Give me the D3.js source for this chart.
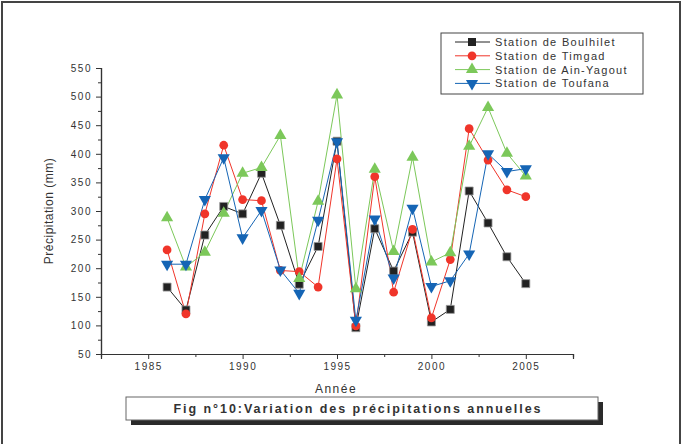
<!DOCTYPE html>
<html>
<head>
<meta charset="utf-8">
<script src="https://cdn.jsdelivr.net/npm/d3@7"></script>
<style>
  body { margin: 0; background: #fff; }
  svg text { font-family: "Liberation Sans", Arial, sans-serif; fill: #333; }
</style>
</head>
<body>
<div id="chart"></div>
<script>
var years = [1986, 1987, 1988, 1989, 1990, 1991, 1992, 1993, 1994, 1995,
             1996, 1997, 1998, 1999, 2000, 2001, 2002, 2003, 2004, 2005];
var boulhilet = [167, 127, 258, 308, 295, 366, 275, 172, 238, 422,
                 96, 269, 195, 263, 106, 128, 335, 279, 220, 173];
var timgad = [232, 120, 295, 415, 320, 318, 196, 194, 167, 391,
              99, 360, 158, 268, 113, 215, 444, 389, 337, 325];
var ainYagout = [288, 202, 228, 296, 366, 376, 432, 182, 317, 503,
                 164, 373, 229, 394, 211, 227, 413, 481, 401, 361];
var toufana = [207, 207, 320, 393, 253, 301, 197, 156, 284, 421,
               109, 286, 183, 305, 168, 178, 225, 400, 369, 374];
var seriesNames = ["Station de Boulhilet", "Station de Timgad", "Station de Ain-Yagout", "Station de Toufana"];
var xTicks = [1985, 1990, 1995, 2000, 2005];
var yTicks = [50, 100, 150, 200, 250, 300, 350, 400, 450, 500, 550];

var width = 685;
var height = 444;
var plotLeft = 101, plotRight = 573, plotTop = 68, plotBottom = 354;

var styles = [
  { color: "#222222", fill: "#222222", symbol: d3.symbolSquare, size: 64, rot: 0 },
  { color: "#f0352a", fill: "#f0352a", symbol: d3.symbolCircle, size: 60, rot: 0 },
  { color: "#7cc85a", fill: "#7cc85a", symbol: d3.symbolTriangle, size: 64, rot: 0 },
  { color: "#1565b5", fill: "#1565b5", symbol: d3.symbolTriangle, size: 64, rot: 180 }
];
var allSeries = [boulhilet, timgad, ainYagout, toufana];

var svg = d3.select("#chart").append("svg")
  .attr("width", width)
  .attr("height", height);

/* outer frame */
svg.append("rect")
  .attr("x", 2).attr("y", 2)
  .attr("width", 678).attr("height", 460)
  .attr("fill", "none")
  .attr("stroke", "#444")
  .attr("stroke-width", 2);

/* Scales */
var xScale = d3.scaleLinear().domain([1982.5, 2007.5]).range([plotLeft, plotRight]);
var yScale = d3.scaleLinear().domain([50, 550]).range([plotBottom, plotTop]);

/* Axes */
var xAxis = d3.axisBottom(xScale).tickValues(xTicks).tickSize(5).tickPadding(4)
  .tickFormat(d3.format("d"));
var xMinor = d3.axisBottom(xScale).tickValues([1987.5, 1992.5, 1997.5, 2002.5, 2007.5])
  .tickSize(3).tickFormat("");
var yAxis = d3.axisLeft(yScale).tickValues(yTicks).tickSize(5).tickPadding(4);
var yMinor = d3.axisLeft(yScale).tickValues(d3.range(75, 550, 50)).tickSize(3).tickFormat("");

function styleAxis(g) {
  g.select(".domain").attr("stroke", "#333").attr("stroke-width", 1.2);
  g.selectAll(".tick line").attr("stroke", "#333");
  g.selectAll(".tick text")
    .style("font-size", "10px")
    .style("letter-spacing", "1.5px")
    .attr("fill", "#333");
}

svg.append("g").attr("transform", `translate(0, ${plotBottom})`).call(xMinor).call(styleAxis);
svg.append("g").attr("transform", `translate(0, ${plotBottom})`).call(xAxis).call(styleAxis);
svg.append("g").attr("transform", `translate(${plotLeft}, 0)`).call(yMinor).call(styleAxis);
svg.append("g").attr("transform", `translate(${plotLeft}, 0)`).call(yAxis).call(styleAxis);

/* Axis titles */
svg.append("text")
  .attr("x", 336).attr("y", 393)
  .attr("text-anchor", "middle")
  .style("font-size", "12px")
  .style("letter-spacing", "1.5px")
  .text("Année");

svg.append("text")
  .attr("transform", "translate(53, 211) rotate(-90)")
  .attr("text-anchor", "middle")
  .style("font-size", "12px")
  .style("letter-spacing", "0.5px")
  .text("Précipitation (mm)");

/* Lines and markers */
var line = d3.line()
  .x((d, i) => xScale(years[i]))
  .y((d) => yScale(d));

allSeries.forEach(function (vals, s) {
  var st = styles[s];
  svg.append("path")
    .attr("d", line(vals))
    .attr("fill", "none")
    .attr("stroke", st.color)
    .attr("stroke-width", 1);
});

allSeries.forEach(function (vals, s) {
  var st = styles[s];
  var sym = d3.symbol().type(st.symbol).size(st.size);
  svg.append("g").selectAll("path")
    .data(vals)
    .enter()
    .append("path")
    .attr("d", sym)
    .attr("transform", (d, i) => `translate(${xScale(years[i])}, ${yScale(d)}) rotate(${st.rot})`)
    .attr("fill", st.fill)
    .attr("stroke", s === 0 ? "#999" : "none")
    .attr("stroke-width", 0.8);
});

/* Legend */
var legend = svg.append("g");
legend.append("rect")
  .attr("x", 441).attr("y", 33)
  .attr("width", 202).attr("height", 61)
  .attr("fill", "#fff")
  .attr("stroke", "#444")
  .attr("stroke-width", 1);

seriesNames.forEach(function (name, s) {
  var st = styles[s];
  var y = 42 + s * 13.8;
  legend.append("line")
    .attr("x1", 455).attr("x2", 490)
    .attr("y1", y).attr("y2", y)
    .attr("stroke", st.color);
  legend.append("path")
    .attr("d", d3.symbol().type(st.symbol).size(st.size)())
    .attr("transform", `translate(472, ${y}) rotate(${st.rot})`)
    .attr("fill", st.fill);
  legend.append("text")
    .attr("x", 495).attr("y", y + 4)
    .style("font-size", "11px")
    .style("letter-spacing", "1.3px")
    .text(name);
});

/* Figure caption box with shadow */
svg.append("rect")
  .attr("x", 131).attr("y", 402)
  .attr("width", 472).attr("height", 23)
  .attr("fill", "#2a2a2a");
svg.append("rect")
  .attr("x", 126).attr("y", 397)
  .attr("width", 472).attr("height", 23)
  .attr("fill", "#fff")
  .attr("stroke", "#666")
  .attr("stroke-width", 1);
svg.append("text")
  .attr("x", 358).attr("y", 413)
  .attr("text-anchor", "middle")
  .style("font-size", "12.5px")
  .style("font-weight", "bold")
  .style("letter-spacing", "1.95px")
  .attr("fill", "#222")
  .text("Fig n°10:Variation des précipitations annuelles");
</script>
</body>
</html>
